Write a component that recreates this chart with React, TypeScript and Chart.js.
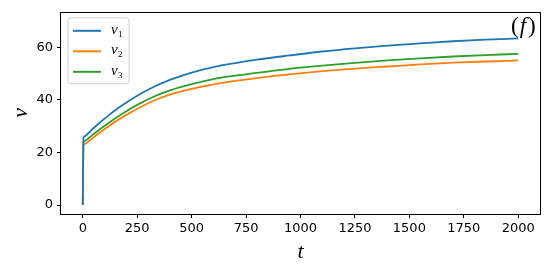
import React, { useEffect, useRef } from "react";
import { Chart, registerables } from "chart.js";

Chart.register(...registerables);

const tValues = [0, 3, 10, 25, 50, 80, 120, 160, 200, 250, 320, 400, 500, 600, 700, 800, 950, 1100, 1250, 1400, 1550, 1700, 1850, 2000];
const v1Values = [0, 25.6, 26.2, 27.3, 29.3, 31.5, 34.2, 36.7, 39.0, 41.6, 44.7, 47.6, 50.4, 52.5, 54.0, 55.3, 56.9, 58.4, 59.6, 60.6, 61.5, 62.3, 62.9, 63.4];
const v2Values = [0, 23.0, 23.3, 24.1, 25.8, 27.7, 30.1, 32.3, 34.3, 36.6, 39.5, 42.0, 44.2, 45.9, 47.2, 48.3, 49.7, 50.9, 51.9, 52.7, 53.5, 54.15, 54.6, 55.0];
const v3Values = [0, 24.0, 24.4, 25.3, 27.0, 28.9, 31.3, 33.6, 35.7, 38.1, 41.0, 43.6, 46.0, 47.9, 49.2, 50.3, 51.8, 53.0, 54.1, 55.0, 55.8, 56.5, 57.05, 57.5];
const xTicks = [0, 250, 500, 750, 1000, 1250, 1500, 1750, 2000];
const yTicks = [0, 20, 40, 60];
const seriesNames = ["1", "2", "3"];
const seriesColors = ["#1f77b4", "#ff7f0e", "#2ca02c"];
const panelLabel = "f";

const boxPlugin = {
  id: "boxPlugin",
  afterDraw(chart: any) {
    const { ctx, chartArea } = chart;
    const { left, right, top, bottom } = chartArea;
    ctx.save();
    ctx.strokeStyle = "#000";
    ctx.lineWidth = 1;
    ctx.strokeRect(Math.round(left) - 0.5, Math.round(top) + 0.5, Math.round(right - left) + 1, Math.round(bottom - top));
    // legend
    const bx = left + 7, by = top + 6, bw = 61, bh = 66;
    ctx.beginPath();
    const r = 3;
    ctx.moveTo(bx + r, by);
    ctx.lineTo(bx + bw - r, by);
    ctx.quadraticCurveTo(bx + bw, by, bx + bw, by + r);
    ctx.lineTo(bx + bw, by + bh - r);
    ctx.quadraticCurveTo(bx + bw, by + bh, bx + bw - r, by + bh);
    ctx.lineTo(bx + r, by + bh);
    ctx.quadraticCurveTo(bx, by + bh, bx, by + bh - r);
    ctx.lineTo(bx, by + r);
    ctx.quadraticCurveTo(bx, by, bx + r, by);
    ctx.closePath();
    ctx.fillStyle = "rgba(255,255,255,0.8)";
    ctx.fill();
    ctx.strokeStyle = "#d0d0d0";
    ctx.lineWidth = 1;
    ctx.stroke();
    seriesNames.forEach((n, i) => {
      const y = by + 13 + i * 20.5;
      ctx.strokeStyle = seriesColors[i];
      ctx.lineWidth = 2;
      ctx.beginPath();
      ctx.moveTo(bx + 5, y);
      ctx.lineTo(bx + 33, y);
      ctx.stroke();
      ctx.fillStyle = "#000";
      ctx.textBaseline = "alphabetic";
      ctx.textAlign = "left";
      ctx.font = "italic 15px 'Liberation Serif'";
      ctx.fillText("v", bx + 43, y + 3);
      ctx.font = "9px 'Liberation Serif'";
      ctx.fillText(n, bx + 50, y + 6);
    });
    // panel label
    ctx.fillStyle = "#000";
    ctx.textBaseline = "alphabetic";
    ctx.textAlign = "left";
    ctx.font = "23px 'Liberation Serif'";
    const base = top + 21;
    let x = right - 29;
    ctx.fillText("(", x, base);
    x += ctx.measureText("(").width + 1;
    ctx.font = "italic 23px 'Liberation Serif'";
    ctx.fillText(panelLabel, x, base);
    x += ctx.measureText(panelLabel).width + 2;
    ctx.font = "23px 'Liberation Serif'";
    ctx.fillText(")", x, base);
    ctx.restore();
  },
};

export default function App() {
  const ref = useRef<HTMLCanvasElement>(null);
  useEffect(() => {
    document.body.style.margin = "0";
    const mk = (vals: number[]) => tValues.map((t, i) => ({ x: t, y: vals[i] }));
    const datasets = [v1Values, v2Values, v3Values].map((vals, i) => ({
      label: "v" + seriesNames[i],
      data: mk(vals),
      borderColor: seriesColors[i],
      backgroundColor: seriesColors[i],
      borderWidth: 1.8,
      pointRadius: 0,
      cubicInterpolationMode: "monotone" as const,
      fill: false,
    }));
    const tickFont = { family: "'DejaVu Sans'", size: 13 };
    const chart = new Chart(ref.current!, {
      type: "line",
      data: { datasets },
      plugins: [boxPlugin],
      options: {
        animation: false,
        responsive: false,
        devicePixelRatio: 1,
        layout: { padding: { top: 9, right: 10, left: 0, bottom: 0 } },
        plugins: { legend: { display: false }, tooltip: { enabled: false } },
        scales: {
          x: {
            type: "linear",
            min: -100,
            max: 2100,
            afterBuildTicks: (s: any) => { s.ticks = xTicks.map((v) => ({ value: v })); },
            afterFit: (s: any) => { s.height = 56; },
            grid: { drawOnChartArea: false, drawTicks: true, tickLength: 4, color: "#000", tickColor: "#000" },
            border: { display: false },
            ticks: { font: tickFont, color: "#000", padding: 3, maxRotation: 0, autoSkip: false, callback: (v: any) => String(v) },
            title: { display: true, text: "t", font: { family: "'Liberation Serif'", size: 22, style: "italic" }, color: "#000", padding: { top: 0, bottom: 5 } },
          },
          y: {
            type: "linear",
            min: -3.4,
            max: 73.5,
            afterBuildTicks: (s: any) => { s.ticks = yTicks.map((v) => ({ value: v })); },
            afterFit: (s: any) => { s.width = 61; },
            grid: { drawOnChartArea: false, drawTicks: true, tickLength: 4, color: "#000", tickColor: "#000" },
            border: { display: false },
            ticks: { font: tickFont, color: "#000", padding: 4, callback: (v: any) => String(v) },
            title: { display: true, text: "v", font: { family: "'Liberation Serif'", size: 22, style: "italic" }, color: "#000", padding: { top: 8, bottom: 0 } },
          },
        },
      },
    });
    return () => chart.destroy();
  }, []);
  return (
    <div style={{ width: 550, height: 270 }}>
      <canvas ref={ref} width={550} height={270} />
    </div>
  );
}
